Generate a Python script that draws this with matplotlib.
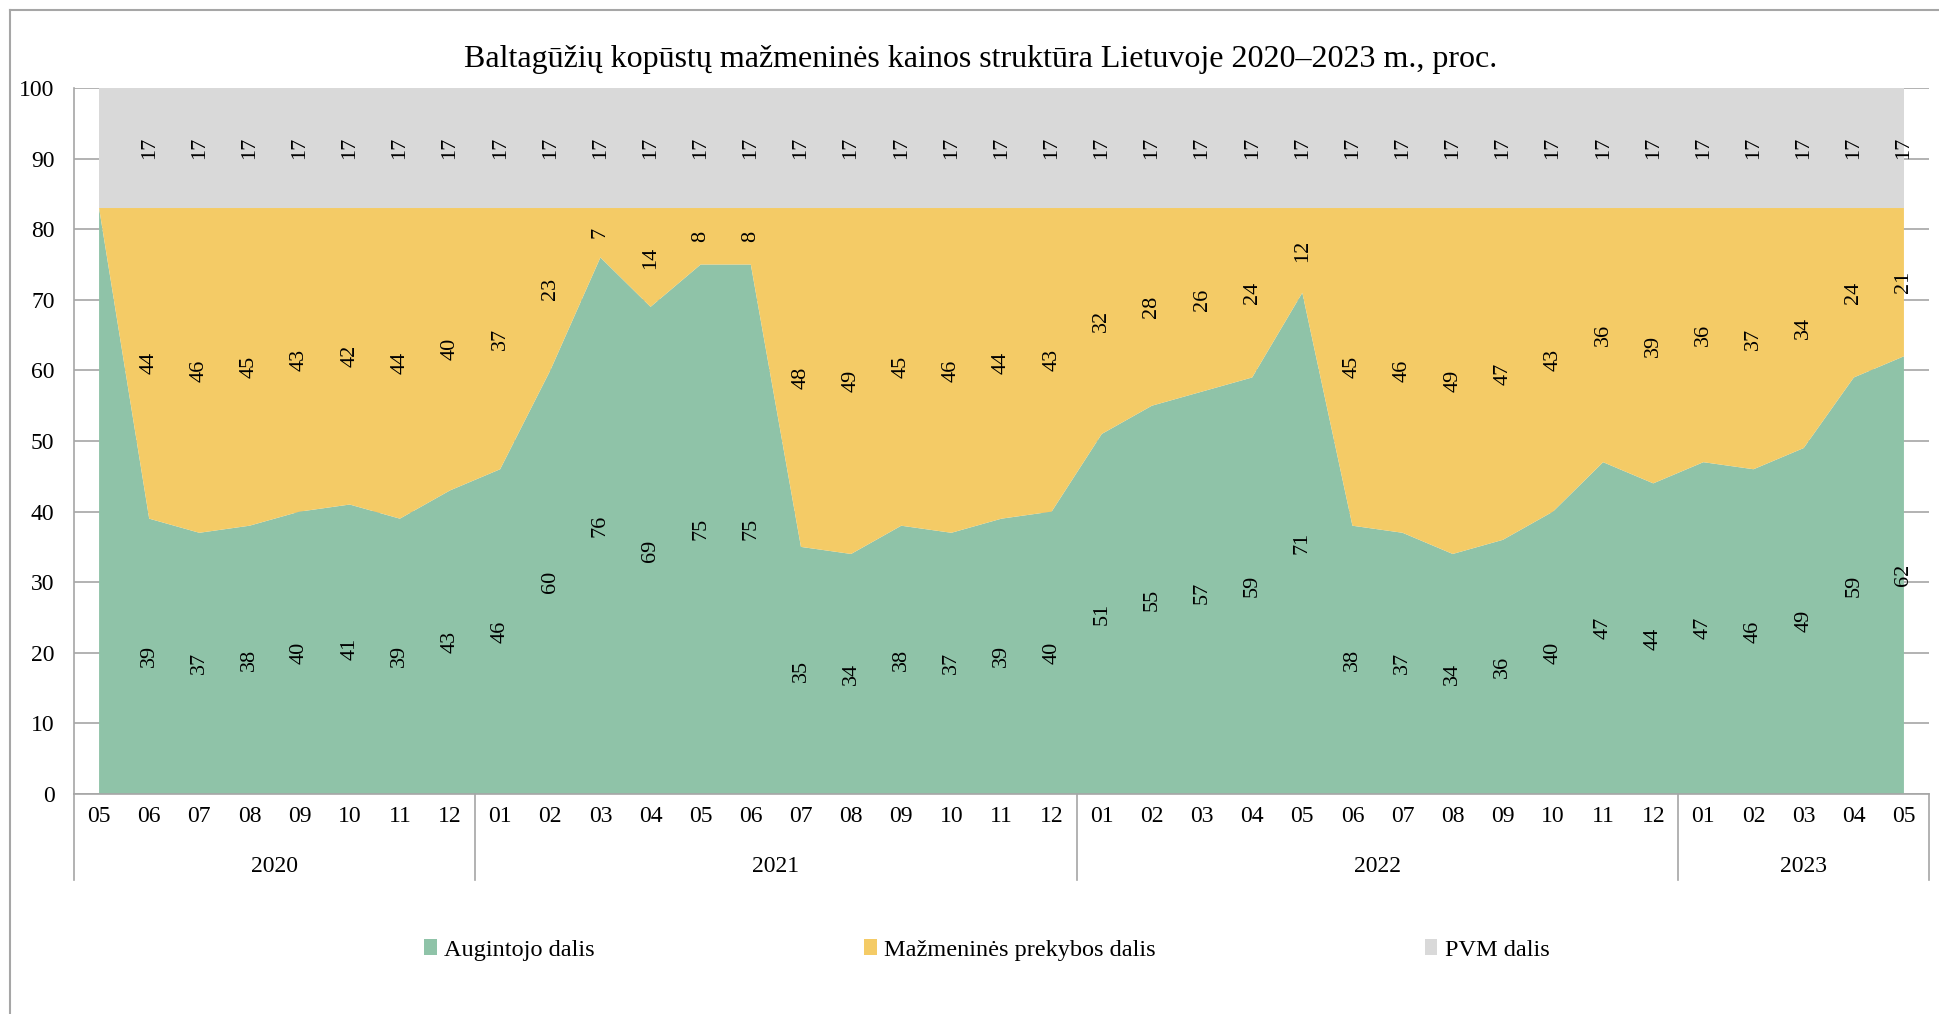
import matplotlib
matplotlib.use("Agg")
import matplotlib.pyplot as plt
import numpy as np
from matplotlib.patches import Patch
from matplotlib.lines import Line2D

plt.rcParams['font.family'] = ['Liberation Serif', 'DejaVu Serif']

# data: months May 2020 .. May 2023
months = ["05", "06", "07", "08", "09", "10", "11", "12",
          "01", "02", "03", "04", "05", "06", "07", "08", "09", "10", "11", "12",
          "01", "02", "03", "04", "05", "06", "07", "08", "09", "10", "11", "12",
          "01", "02", "03", "04", "05"]
years = ["2020", "2021", "2022", "2023"]
year_sizes = [8, 12, 12, 5]

augintojo = [83, 39, 37, 38, 40, 41, 39, 43,
             46, 60, 76, 69, 75, 75, 35, 34, 38, 37, 39, 40,
             51, 55, 57, 59, 71, 38, 37, 34, 36, 40, 47, 44,
             47, 46, 49, 59, 62]
prekybos = [0, 44, 46, 45, 43, 42, 44, 40,
            37, 23, 7, 14, 8, 8, 48, 49, 45, 46, 44, 43,
            32, 28, 26, 24, 12, 45, 46, 49, 47, 43, 36, 39,
            36, 37, 34, 24, 21]
pvm = [17] * 37
# first month has no data labels
show_label = [False] + [True] * 36

series_names = ["Augintojo dalis", "Mažmeninės prekybos dalis", "PVM dalis"]
colors = ["#8fc3a8", "#f4cb66", "#d9d9d9"]

x = np.arange(len(months))
fig = plt.figure(figsize=(19.39, 10.14), dpi=100)
ax = fig.add_axes([74 / 1939, 1 - 794 / 1014, (1929 - 74) / 1939, (794 - 88) / 1014])

ax.stackplot(x, augintojo, prekybos, pvm, colors=colors, linewidth=0, zorder=2)

ax.set_xlim(-0.5, len(months) - 0.5)
ax.set_ylim(0, 100)
ax.set_yticks(range(0, 101, 10))
ax.tick_params(axis='y', length=0, labelsize=17, pad=14)
ax.grid(axis='y', color='#a6a6a6', linewidth=1.2, zorder=0)
ax.set_axisbelow(True)
for s in ['top', 'right']:
    ax.spines[s].set_visible(False)
for s in ['left', 'bottom']:
    ax.spines[s].set_color('#a6a6a6')
    ax.spines[s].set_linewidth(1.2)

ax.set_xticks(x)
ax.set_xticklabels(months)
ax.tick_params(axis='x', length=0, labelsize=17, pad=9)

# data labels, centred in each band
lo = np.zeros(len(x))
for vals in [augintojo, prekybos, pvm]:
    for i, v in enumerate(vals):
        if show_label[i]:
            ax.text(x[i], lo[i] + v / 2, str(v), rotation=90, ha='center', va='center',
                    fontsize=16, zorder=5)
    lo = lo + np.array(vals)

# year groups below the axis
tr = ax.get_xaxis_transform()
bounds = [-0.5]
for n in year_sizes:
    bounds.append(bounds[-1] + n)
for b in bounds:
    ax.add_line(Line2D([b, b], [0, -0.122], transform=tr, color='#a6a6a6',
                       linewidth=1.2, clip_on=False))
for yr, a, b in zip(years, bounds[:-1], bounds[1:]):
    ax.text((a + b) / 2, -0.102, yr, transform=tr, ha='center', va='center', fontsize=17)

fig.text(981 / 1939, 1 - 60 / 1014,
         "Baltagūžių kopūstų mažmeninės kainos struktūra Lietuvoje 2020–2023 m., proc.",
         ha='center', va='center', fontsize=23)

handles = [Patch(facecolor=c, edgecolor='none') for c in colors]
fig.legend(handles, series_names, loc='center', bbox_to_anchor=(0.509, 1 - 950 / 1014),
           ncol=3, frameon=False, fontsize=17.5, handlelength=0.5, handleheight=0.65,
           handletextpad=0.3, columnspacing=11.1)

# chart-area border
fig.add_artist(Line2D([10 / 1939, 1], [1 - 10 / 1014] * 2, transform=fig.transFigure,
                      color='#a6a6a6', linewidth=1.5))
fig.add_artist(Line2D([10 / 1939] * 2, [0, 1 - 10 / 1014], transform=fig.transFigure,
                      color='#a6a6a6', linewidth=1.5))

fig.savefig("out.png", dpi=100)
